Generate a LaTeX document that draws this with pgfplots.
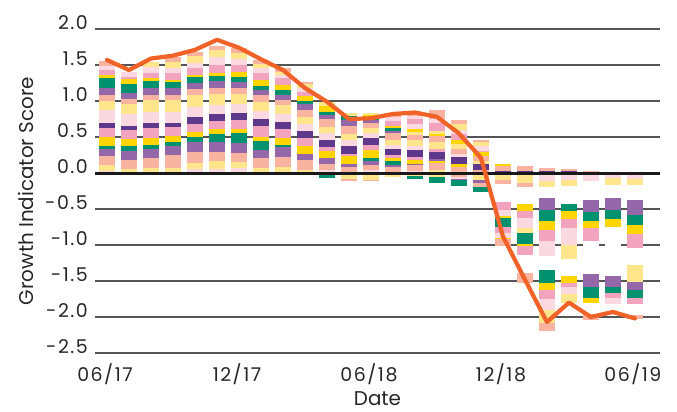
\documentclass[border=0pt]{standalone}
\usepackage{pgfplots}
\pgfplotsset{compat=1.18}
\usepackage{pgfplotstable}
\usepackage{fontspec}
\setmainfont{Poppins}
\newfontfamily\tickfont{Poppins}[LetterSpace=8]
\definecolor{col0}{HTML}{FADAE0}
\definecolor{col1}{HTML}{FFE68C}
\definecolor{col2}{HTML}{F8B4A0}
\definecolor{col3}{HTML}{9468A8}
\definecolor{col4}{HTML}{00916E}
\definecolor{col5}{HTML}{FFD500}
\definecolor{col6}{HTML}{F2A3BE}
\definecolor{col7}{HTML}{5E388A}
\definecolor{col8}{HTML}{FFFFFF}
\definecolor{gridc}{HTML}{555555}
\definecolor{lineor}{HTML}{F06228}

\pgfplotstableread{
x lo hi c
0 0 0.03 0
0 0.03 0.11 1
0 0.11 0.235 2
0 0.235 0.335 3
0 0.335 0.375 4
0 0.375 0.5 5
0 0.5 0.625 6
0 0.625 0.695 7
0 0.695 0.87 0
0 0.87 1.0 1
0 1.0 1.085 2
0 1.085 1.175 3
0 1.175 1.315 4
0 1.315 1.36 5
0 1.36 1.43 6
0 1.43 1.49 0
0 1.49 1.56 2
1 0 0.055 1
1 0.055 0.18 2
1 0.18 0.305 3
1 0.305 0.375 4
1 0.375 0.475 5
1 0.475 0.6 6
1 0.6 0.655 7
1 0.655 0.815 0
1 0.815 0.96 1
1 0.96 1.03 2
1 1.03 1.115 3
1 1.115 1.24 4
1 1.24 1.31 5
1 1.31 1.34 6
1 1.34 1.40 0
2 0 0.065 1
2 0.065 0.215 2
2 0.215 0.335 3
2 0.335 0.39 4
2 0.39 0.48 5
2 0.48 0.625 6
2 0.625 0.695 7
2 0.695 0.845 0
2 0.845 1.015 1
2 1.015 1.085 2
2 1.085 1.175 3
2 1.175 1.275 4
2 1.275 1.315 5
2 1.315 1.395 6
2 1.395 1.475 0
2 1.475 1.545 1
3 0 0.065 1
3 0.065 0.25 2
3 0.25 0.38 3
3 0.38 0.425 4
3 0.425 0.52 5
3 0.52 0.645 6
3 0.645 0.70 7
3 0.70 0.845 0
3 0.845 1.015 1
3 1.015 1.085 2
3 1.085 1.175 3
3 1.175 1.26 4
3 1.26 1.295 5
3 1.295 1.385 6
3 1.385 1.455 0
3 1.455 1.545 1
3 1.545 1.61 2
4 0 0.055 0
4 0.055 0.145 1
4 0.145 0.295 2
4 0.295 0.435 3
4 0.435 0.505 4
4 0.505 0.565 5
4 0.565 0.68 6
4 0.68 0.78 7
4 0.78 0.92 0
4 0.92 1.08 1
4 1.08 1.17 2
4 1.17 1.255 3
4 1.255 1.335 4
4 1.335 1.365 5
4 1.365 1.455 6
4 1.455 1.53 0
4 1.53 1.63 1
4 1.63 1.685 2
5 0 0.055 0
5 0.055 0.165 1
5 0.165 0.295 2
5 0.295 0.435 3
5 0.435 0.54 4
5 0.54 0.61 5
5 0.61 0.72 6
5 0.72 0.82 7
5 0.82 0.95 0
5 0.95 1.095 1
5 1.095 1.185 2
5 1.185 1.275 3
5 1.275 1.345 4
5 1.345 1.39 5
5 1.39 1.495 6
5 1.495 1.61 0
5 1.61 1.705 1
5 1.705 1.765 2
6 0 0.065 0
6 0.065 0.15 1
6 0.15 0.275 2
6 0.275 0.415 3
6 0.415 0.555 4
6 0.555 0.615 5
6 0.615 0.74 6
6 0.74 0.84 7
6 0.84 0.96 0
6 0.96 1.095 1
6 1.095 1.185 2
6 1.185 1.26 3
6 1.26 1.33 4
6 1.33 1.40 5
6 1.40 1.50 6
6 1.50 1.59 0
6 1.59 1.66 1
6 1.66 1.73 2
7 0 0.075 1
7 0.075 0.205 2
7 0.205 0.32 3
7 0.32 0.45 4
7 0.45 0.505 5
7 0.505 0.655 6
7 0.655 0.755 7
7 0.755 0.865 0
7 0.865 0.985 1
7 0.985 1.085 2
7 1.085 1.155 3
7 1.155 1.21 4
7 1.21 1.285 5
7 1.285 1.395 6
7 1.395 1.455 0
7 1.455 1.51 1
7 1.51 1.575 2
8 0 0.09 1
8 0.09 0.22 2
8 0.22 0.355 3
8 0.355 0.39 4
8 0.39 0.485 5
8 0.485 0.61 6
8 0.61 0.715 7
8 0.715 0.825 0
8 0.825 0.945 1
8 0.945 1.015 2
8 1.015 1.085 3
8 1.085 1.155 4
8 1.155 1.225 5
8 1.225 1.315 6
8 1.315 1.36 0
8 1.36 1.405 1
8 1.405 1.46 2
9 0 0.04 1
9 0.04 0.18 2
9 0.18 0.27 3
9 0.27 0.38 5
9 0.38 0.48 6
9 0.48 0.58 7
9 0.58 0.68 0
9 0.68 0.78 1
9 0.78 0.87 2
9 0.87 0.96 3
9 0.96 1.0 4
9 1.0 1.07 5
9 1.07 1.13 6
9 1.13 1.18 0
9 1.18 1.23 1
9 1.23 1.26 2
10 0 0.045 0
10 0.045 0.125 2
10 0.125 0.205 3
10 0.205 0.305 5
10 0.305 0.365 6
10 0.365 0.455 7
10 0.455 0.555 0
10 0.555 0.645 1
10 0.645 0.745 2
10 0.745 0.81 3
10 0.81 0.85 4
10 0.85 0.93 5
10 0.93 0.985 1
10 -0.065 0 4
11 0 0.08 2
11 0.08 0.12 3
11 0.12 0.23 5
11 0.23 0.27 6
11 0.27 0.38 7
11 0.38 0.465 0
11 0.465 0.535 1
11 0.535 0.65 2
11 0.65 0.735 3
11 0.735 0.79 4
11 0.79 0.835 1
11 -0.09 0 1
11 -0.105 -0.09 2
12 0 0.04 0
12 0.04 0.11 2
12 0.11 0.16 3
12 0.16 0.21 4
12 0.21 0.32 5
12 0.32 0.39 6
12 0.39 0.48 7
12 0.48 0.55 0
12 0.55 0.63 1
12 0.63 0.69 2
12 0.69 0.74 3
12 0.74 0.77 4
12 0.77 0.80 5
12 0.80 0.84 1
12 -0.1 0 1
12 -0.11 -0.1 2
13 0 0.08 2
13 0.08 0.115 3
13 0.115 0.16 4
13 0.16 0.205 5
13 0.205 0.25 6
13 0.25 0.34 7
13 0.34 0.385 0
13 0.385 0.465 1
13 0.465 0.55 2
13 0.55 0.585 3
13 0.585 0.625 4
13 0.625 0.655 5
13 0.655 0.725 6
13 0.725 0.775 0
13 0.775 0.835 2
13 -0.06 0 1
14 0 0.03 0
14 0.03 0.11 2
14 0.11 0.13 3
14 0.13 0.18 5
14 0.18 0.22 6
14 0.22 0.32 7
14 0.32 0.38 0
14 0.38 0.46 1
14 0.46 0.53 2
14 0.53 0.57 1
14 0.57 0.61 5
14 0.61 0.68 0
14 0.68 0.75 6
14 0.75 0.79 0
14 0.79 0.85 2
14 -0.04 0 1
14 -0.085 -0.04 4
15 0 0.04 1
15 0.04 0.14 2
15 0.14 0.17 5
15 0.17 0.19 3
15 0.19 0.29 7
15 0.29 0.34 6
15 0.34 0.43 1
15 0.43 0.51 2
15 0.51 0.54 5
15 0.54 0.59 1
15 0.59 0.69 6
15 0.69 0.75 0
15 0.75 0.875 2
15 -0.05 0 1
15 -0.135 -0.05 4
16 0 0.09 2
16 0.09 0.12 5
16 0.12 0.22 7
16 0.22 0.26 0
16 0.26 0.34 2
16 0.34 0.40 1
16 0.40 0.46 5
16 0.46 0.535 6
16 0.535 0.595 0
16 0.595 0.675 1
16 0.675 0.74 2
16 -0.06 0 2
16 -0.08 -0.06 0
16 -0.1 -0.08 3
16 -0.18 -0.1 4
17 0 0.04 2
17 0.04 0.12 7
17 0.12 0.16 1
17 0.16 0.23 2
17 0.23 0.285 5
17 0.285 0.31 6
17 0.31 0.37 0
17 0.37 0.425 1
17 0.425 0.46 2
17 -0.1 0 1
17 -0.145 -0.1 3
17 -0.2 -0.145 2
17 -0.27 -0.2 4
18 0 0.03 7
18 0.03 0.1 2
18 0.1 0.125 5
18 -0.1 0 1
18 -0.15 -0.1 2
18 -0.4 -0.15 8
18 -0.51 -0.4 6
18 -0.6 -0.51 0
18 -0.62 -0.6 5
18 -0.75 -0.62 4
18 -0.83 -0.75 6
18 -0.9 -0.83 0
18 -0.92 -0.9 5
18 -1.02 -0.92 2
19 0 0.03 7
19 0.03 0.1 2
19 -0.14 0 1
19 -0.2 -0.14 2
19 -0.43 -0.2 8
19 -0.53 -0.43 5
19 -0.62 -0.53 6
19 -0.76 -0.62 0
19 -0.84 -0.76 1
19 -0.99 -0.84 4
19 -1.01 -0.99 5
19 -1.14 -1.01 6
19 -1.39 -1.14 8
19 -1.53 -1.39 2
20 0 0.03 7
20 0.03 0.075 2
20 -0.11 0 0
20 -0.19 -0.11 1
20 -0.35 -0.19 8
20 -0.52 -0.35 3
20 -0.66 -0.52 4
20 -0.79 -0.66 5
20 -0.94 -0.79 6
20 -1.15 -0.94 0
20 -1.35 -1.15 8
20 -1.53 -1.35 4
20 -1.62 -1.53 5
20 -1.75 -1.62 6
20 -1.9 -1.75 0
20 -2.08 -1.9 1
20 -2.19 -2.08 2
21 0 0.025 7
21 0.025 0.055 2
21 -0.1 0 0
21 -0.18 -0.1 1
21 -0.43 -0.18 8
21 -0.53 -0.43 4
21 -0.64 -0.53 5
21 -0.76 -0.64 6
21 -1.0 -0.76 0
21 -1.19 -1.0 1
21 -1.43 -1.19 8
21 -1.53 -1.43 5
21 -1.59 -1.53 6
21 -1.68 -1.59 0
21 -1.81 -1.68 1
22 0 0.03 2
22 -0.105 0 0
22 -0.375 -0.105 8
22 -0.54 -0.375 3
22 -0.67 -0.54 4
22 -0.76 -0.67 5
22 -0.94 -0.76 6
22 -1.4 -0.94 8
22 -1.59 -1.4 3
22 -1.73 -1.59 4
22 -1.8 -1.73 5
22 -1.96 -1.8 8
22 -2.04 -1.96 2
23 -0.075 0 0
23 -0.165 -0.075 1
23 -0.35 -0.165 8
23 -0.52 -0.35 3
23 -0.64 -0.52 4
23 -0.745 -0.64 5
23 -1.43 -0.745 8
23 -1.59 -1.43 3
23 -1.66 -1.59 4
23 -1.73 -1.66 6
23 -1.82 -1.73 0
24 -0.09 0 0
24 -0.165 -0.09 1
24 -0.375 -0.165 8
24 -0.58 -0.375 3
24 -0.72 -0.58 4
24 -0.85 -0.72 5
24 -1.04 -0.85 6
24 -1.28 -1.04 8
24 -1.51 -1.28 1
24 -1.62 -1.51 3
24 -1.73 -1.62 4
24 -1.82 -1.73 6
24 -1.97 -1.82 8
24 -2.03 -1.97 2
}\segs

\pgfplotstableread{
x y
0 1.57
1 1.43
2 1.59
3 1.63
4 1.71
5 1.85
6 1.74
7 1.58
8 1.43
9 1.18
10 0.99
11 0.75
12 0.76
13 0.82
14 0.84
15 0.78
16 0.55
17 0.21
18 -0.88
19 -1.48
20 -2.07
21 -1.80
22 -2.00
23 -1.93
24 -2.02
}\score

\pgfplotsset{seg/.style={only marks, mark=*, mark size=0pt,
  mark options={draw=none, fill=none}, forget plot,
  restrict expr to domain={\thisrow{c}}{#1:#1},
  error bars/.cd, y dir=plus, y explicit, error mark=none,
  error bar style={line width=16.7bp, color=col#1, line cap=butt}}}

\begin{document}
\begin{tikzpicture}
\begin{axis}[
  name=ax,
  scale only axis, width=565bp, height=324bp,
  xmin=-0.545, xmax=25.14, ymin=-2.5, ymax=2.0,
  axis line style={draw=none},
  major tick length=0pt,
  ytick={-2.5,-2,-1.5,-1,-0.5,0,0.5,1,1.5,2},
  yticklabels={-2.5,-2.0,-1.5,-1.0,-0.5,0.0,0.5,1.0,1.5,2.0},
  xtick={0,6,12,18,24},
  xticklabels={06/17,12/17,06/18,12/18,06/19},
  ymajorgrids, grid style={gridc, line width=1.3bp},
  tick label style={font=\tickfont\fontsize{19}{21}\selectfont, inner sep=0pt, text=black!85},
  yticklabel style={anchor=base east, xshift=-7bp},
  xticklabel style={anchor=base, yshift=-28bp, xshift=-2bp},
  xlabel={Date}, ylabel={Growth Indicator Score},
  label style={font=\fontsize{20}{22}\selectfont, inner sep=0pt, text=black!85},
  xlabel style={at={(axis description cs:0.5,-0.1605)}, anchor=base},
  ylabel style={at={(axis description cs:-0.1097,0.5)}, anchor=base},
  clip=false,
]
\addplot[seg=0] table[x=x, y=lo, y error plus expr={\thisrow{hi}-\thisrow{lo}}] {\segs};
\addplot[seg=1] table[x=x, y=lo, y error plus expr={\thisrow{hi}-\thisrow{lo}}] {\segs};
\addplot[seg=2] table[x=x, y=lo, y error plus expr={\thisrow{hi}-\thisrow{lo}}] {\segs};
\addplot[seg=3] table[x=x, y=lo, y error plus expr={\thisrow{hi}-\thisrow{lo}}] {\segs};
\addplot[seg=4] table[x=x, y=lo, y error plus expr={\thisrow{hi}-\thisrow{lo}}] {\segs};
\addplot[seg=5] table[x=x, y=lo, y error plus expr={\thisrow{hi}-\thisrow{lo}}] {\segs};
\addplot[seg=6] table[x=x, y=lo, y error plus expr={\thisrow{hi}-\thisrow{lo}}] {\segs};
\addplot[seg=7] table[x=x, y=lo, y error plus expr={\thisrow{hi}-\thisrow{lo}}] {\segs};
\addplot[seg=8] table[x=x, y=lo, y error plus expr={\thisrow{hi}-\thisrow{lo}}] {\segs};
\addplot[color=black!90, line width=3bp, forget plot] coordinates {(-0.545,0) (25.14,0)};
\addplot[color=lineor, line width=4.2bp, line join=round, line cap=round] table[x=x, y=y] {\score};
\end{axis}
\pgfresetboundingbox
\path[use as bounding box] (ax.south west) ++(-95bp,-59bp) rectangle ++(677bp,412bp);
\end{tikzpicture}
\end{document}
